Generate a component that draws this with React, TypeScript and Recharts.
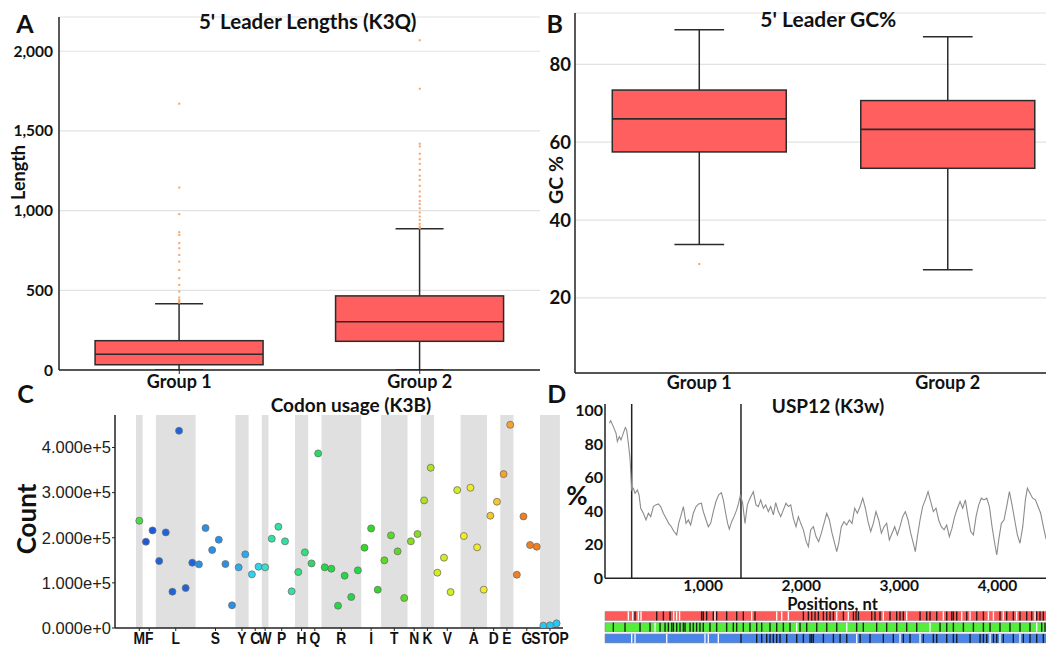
import React from "react";
import {
  ComposedChart,
  Bar,
  Scatter,
  XAxis,
  YAxis,
  CartesianGrid,
  LineChart,
  Line,
  ReferenceLine,
  ReferenceArea,
} from "recharts";

// ---------- Panel A: 5' leader lengths ----------
const groups = ["Group 1", "Group 2"];
const lenMin = [0, 0];
const lenQ1 = [33, 180];
const lenMedian = [99, 303];
const lenQ3 = [184, 465];
const lenMax = [415, 886];
const lenOutliersG1 = [1671, 1145, 978, 865, 848, 796, 764, 722, 680, 628, 576, 534, 492, 455, 440, 430, 422];
const lenOutliersG2 = [2069, 1765, 1420, 1403, 1357, 1323, 1294, 1256, 1219, 1193, 1156, 1120, 1089, 1061, 1042, 1015, 988, 963, 942, 917, 900, 890];
const lenTicks = [0, 500, 1000, 1500, 2000];

// ---------- Panel B: 5' leader GC% ----------
const gcMin = [33.7, 27.2];
const gcQ1 = [57.5, 53.3];
const gcMedian = [66.0, 63.3];
const gcQ3 = [73.4, 70.7];
const gcMax = [88.9, 87.1];
const gcOutliersG1 = [28.7];
const gcOutliersG2: number[] = [];
const gcTicks = [20, 40, 60, 80];

// ---------- Panel C: codon usage ----------
const aminoAcids = ["M", "F", "L", "S", "Y", "C", "W", "P", "H", "Q", "R", "I", "T", "N", "K", "V", "A", "D", "E", "G", "STOP"];
const codonsPerAA = [1, 2, 6, 6, 2, 2, 1, 4, 2, 2, 6, 3, 4, 2, 2, 4, 4, 2, 2, 4, 3];
const codonCounts = [
  237700,
  191200, 216300,
  148400, 211900, 80500, 437100, 88600, 144700,
  141000, 221500, 172800, 195600, 141700, 50200,
  134400, 163200,
  118900, 135800,
  134400,
  197900, 224400, 192000, 81200,
  124000, 167600,
  143200, 386900,
  134400, 131400, 49500, 115900, 68700, 127700,
  177900, 220700, 84900,
  149900, 205200, 169800, 66400,
  192000, 208200,
  282800, 355100,
  122600, 155800, 79700, 305600,
  203800, 310800, 178700, 84900,
  248800, 279800,
  341100, 450300,
  118100, 247300, 183800, 180100,
  5200, 5900, 10300,
];
const countTicks = [0, 100000, 200000, 300000, 400000];

// ---------- Panel D: USP12 profile ----------
const posNt = [
  44, 58, 85, 112, 126, 146, 163, 187, 207, 221, 238, 255, 272, 289, 306, 330, 347, 364, 391, 418,
  442, 466, 493, 516, 544, 567, 595, 622, 649, 676, 703, 731, 751, 771, 799, 826, 850, 873, 900, 928,
  955, 982, 1002, 1030, 1053, 1077, 1104, 1131, 1159, 1186, 1206, 1230, 1250, 1267, 1291, 1315, 1342, 1362, 1380, 1403,
  1427, 1451, 1478, 1512, 1539, 1563, 1587, 1614, 1638, 1665, 1689, 1716, 1740, 1767, 1791, 1818, 1845, 1869, 1893, 1920,
  1947, 1971, 1995, 2022, 2050, 2073, 2096, 2124, 2151, 2178, 2205, 2232, 2260, 2287, 2314, 2341, 2362, 2382, 2409, 2436,
  2463, 2491, 2518, 2545, 2572, 2600, 2627, 2654, 2681, 2708, 2735, 2762, 2790, 2817, 2844, 2871, 2898, 2926, 2953, 2980,
  3007, 3034, 3061, 3089, 3116, 3143, 3163, 3184, 3211, 3238, 3265, 3293, 3320, 3347, 3374, 3401, 3428, 3456, 3483, 3510,
  3537, 3564, 3592, 3619, 3646, 3673, 3700, 3728, 3755, 3782, 3809, 3836, 3863, 3891, 3918, 3945, 3972, 3993, 4013, 4040,
  4067, 4094, 4122, 4149, 4176, 4203, 4230, 4258, 4285, 4305, 4332, 4359, 4387, 4414, 4441, 4468, 4496,
];
const pctValues = [
  92.5, 94, 90.5, 86.6, 81.6, 84.6, 82.6, 86.6, 90, 88.6, 80.6, 71.6, 52.7, 53.7, 50.7, 52.7, 49.8, 41.8, 38.8, 34.8,
  38.8, 36.8, 42.8, 43.8, 44.4, 42.8, 38.8, 35.8, 32.8, 30.8, 27.9, 25.9, 32.8, 36.8, 42.8, 32.8, 34.8, 31.8, 38.8, 42.8,
  44.4, 44.8, 39.8, 34.8, 30.8, 32.8, 39.8, 45.8, 49.8, 51.1, 46.8, 38.8, 32.8, 29.3, 33.8, 36.8, 40.8, 44.8, 49.8, 44.8,
  32.8, 43.8, 47.8, 51.7, 43.8, 42.8, 46.8, 41.8, 43.8, 39.8, 42.8, 37.8, 45.2, 39.8, 36.8, 40.8, 44.8, 42.8, 43.8, 35.8,
  30.8, 36.8, 32.8, 28.9, 22, 18.9, 28.9, 30.8, 24.9, 21.9, 26.9, 32.8, 38.8, 34.8, 26.9, 20.9, 15.9, 20.9, 30.8, 33.8,
  31.8, 34.8, 32.8, 41.8, 38.8, 42.8, 47.8, 41.8, 33.8, 27.9, 32.8, 39.8, 34.8, 26.9, 30.8, 32.8, 22.9, 26.9, 30.8, 25.9,
  30.8, 36.8, 39.8, 34.8, 26.9, 20.9, 15.9, 24.9, 34.8, 42.8, 46.8, 51.7, 45.8, 39.8, 41.8, 34.8, 30.8, 28.9, 31.8, 24.9,
  29.9, 36.8, 41.8, 45.8, 41.8, 46.8, 36.8, 27.9, 25.9, 36.8, 43.8, 47.8, 46.8, 47.8, 42.8, 30.8, 20.9, 13.9, 22.9, 32.8,
  34.8, 42.8, 51.7, 43.8, 34.8, 25.9, 20.9, 30.8, 46.8, 53.7, 50.7, 47.8, 46.8, 42.8, 38.8, 30.8, 23.3,
];
const regionBounds = [272, 1386];
const posTicks = [1000, 2000, 3000, 4000];
const pctTicks = [0, 20, 40, 60, 80, 100];

// reading-frame marks (nt positions)
const frame1Stops = [306, 527, 595, 663, 985, 1002, 1036, 1104, 1138, 1240, 1342, 1410, 1529, 2022, 2073, 2107, 2141, 2175, 2226, 2260, 2294, 2328, 2430, 2532, 2559, 2583, 2718, 2752, 2803, 2905, 2973, 3007, 3041, 3211, 3279, 3313, 3381, 3483, 3534, 3551, 3585, 3687, 3789, 3857, 4026, 4094, 4162, 4230, 4298, 4349, 4400, 4434, 4468];
const frame1Starts = [238, 282, 340, 367, 700, 730, 760, 1121, 1495, 1750, 1801, 1869, 2362, 2480, 2837, 3075, 3449, 3636, 3721, 3908, 3959, 4060, 4196, 4383];
const frame2Stops = [85, 204, 357, 459, 561, 612, 646, 680, 697, 731, 765, 799, 816, 867, 900, 934, 968, 1002, 1070, 1138, 1240, 1308, 1342, 1410, 1478, 1546, 1597, 1682, 1750, 1818, 1886, 1988, 2056, 2158, 2260, 2362, 2565, 2633, 2769, 2871, 2973, 3075, 3177, 3415, 3483, 3551, 3653, 3755, 3857, 3925, 4026, 4128, 4230, 4332, 4451, 4485];
const frame2Starts = [510, 1954, 2464, 3313, 4400];
const frame3Stops = [1386, 1546, 1597, 1648, 1682, 1716, 1750, 1784, 1852, 1954, 2022, 2090, 2107, 2124, 2226, 2328, 2396, 2464, 2600, 2701, 2837, 2939, 3041, 3109, 3245, 3347, 3381, 3483, 3551, 3585, 3721, 3823, 3857, 3891, 3959, 3993, 4060, 4162, 4264, 4332, 4400, 4468];
const frame3Starts = [272, 306, 629, 1019, 1053, 1155, 2566, 3007, 3211, 3925, 4026, 4230];

// ---------- styles ----------
const BOLD_FONT = "Lato, 'Open Sans', sans-serif";
const ARIAL = "'Liberation Sans', Arial, sans-serif";
const BOX_FILL = "#ff5f5f";
const BOX_STROKE = "#2b2b2b";
const OUTLIER = "#f4a46a";
const aaColors: Record<string, string> = {
  M: "#44dd44", F: "#1b5ad8", L: "#1c64de", S: "#2a8fe6", Y: "#2aa9ee", C: "#2fd3ec", W: "#30e2c6",
  P: "#30e2a2", H: "#2ee07e", Q: "#28dc60", R: "#22d944", I: "#2edb22", T: "#5adb22", N: "#86dd22",
  K: "#aee222", V: "#d4ec22", A: "#f2ea22", D: "#f4c82a", E: "#f4a428", G: "#f07e22", STOP: "#22c8f6",
};

// ---------- derived tables ----------
const lenBoxes = groups.map((g, i) => ({
  group: g, range: [lenMin[i], lenMax[i]], min: lenMin[i], q1: lenQ1[i], median: lenMedian[i], q3: lenQ3[i], max: lenMax[i],
}));
const lenOutlierData = [
  ...lenOutliersG1.map((v) => ({ group: groups[0], v })),
  ...lenOutliersG2.map((v) => ({ group: groups[1], v })),
];
const gcBoxes = groups.map((g, i) => ({
  group: g, range: [gcMin[i], gcMax[i]], min: gcMin[i], q1: gcQ1[i], median: gcMedian[i], q3: gcQ3[i], max: gcMax[i],
}));
const gcOutlierData = [
  ...gcOutliersG1.map((v) => ({ group: groups[0], v })),
  ...gcOutliersG2.map((v) => ({ group: groups[1], v })),
];

const codonData: { i: number; v: number; aa: string }[] = [];
const aaSpans: { aa: string; start: number; end: number; center: number }[] = [];
{
  let idx = 0;
  aminoAcids.forEach((aa, k) => {
    const start = idx;
    for (let c = 0; c < codonsPerAA[k]; c++) {
      codonData.push({ i: idx, v: codonCounts[idx], aa });
      idx++;
    }
    const end = idx - 1;
    aaSpans.push({ aa, start, end, center: (start + end) / 2 });
  });
}
const aaTickPositions = aaSpans.map((s) => s.center);
const aaTickLabel = (v: number) => {
  const s = aaSpans.find((x) => Math.abs(x.center - v) < 1e-6);
  return s ? s.aa : "";
};

const usp12Data = posNt.map((p, i) => ({ pos: p, pct: pctValues[i] }));

// ---------- shapes ----------
function BoxShape(props: any) {
  const { x, y, width, height, payload } = props;
  if (x == null || y == null) return null;
  const { min, q1, median, q3, max } = payload;
  const span = max - min;
  const py = (v: number) => y + (height * (max - v)) / span;
  const cx = x + width / 2;
  const capHalf = (width * (0.2 / 0.7)) / 2;
  return (
    <g>
      <line x1={cx} x2={cx} y1={py(max)} y2={py(min)} stroke={BOX_STROKE} strokeWidth={1.5} />
      <line x1={cx - capHalf} x2={cx + capHalf} y1={py(max)} y2={py(max)} stroke={BOX_STROKE} strokeWidth={1.5} />
      <line x1={cx - capHalf} x2={cx + capHalf} y1={py(min)} y2={py(min)} stroke={BOX_STROKE} strokeWidth={1.5} />
      <rect x={x} y={py(q3)} width={width} height={py(q1) - py(q3)} fill={BOX_FILL} stroke={BOX_STROKE} strokeWidth={1.5} />
      <line x1={x} x2={x + width} y1={py(median)} y2={py(median)} stroke={BOX_STROKE} strokeWidth={1.6} />
    </g>
  );
}

const OutlierDot = (p: any) =>
  p.cx == null ? null : <rect x={p.cx - 1} y={p.cy - 1} width={2} height={2} fill={OUTLIER} />;

const CodonDot = (p: any) =>
  p.cx == null ? null : (
    <circle cx={p.cx} cy={p.cy} r={3.5} fill={aaColors[p.payload.aa]} stroke="#707070" strokeWidth={0.8} />
  );

const AATick = (p: any) => {
  const { x, y, payload } = p;
  return (
    <g transform={`translate(${x},${y})`}>
      <text x={0} y={0} dy="0.71em" textAnchor="middle" transform="scale(0.84,1)"
        fontFamily={ARIAL} fontSize={16.5} fontWeight={700} fill="#111">
        {aaTickLabel(payload.value)}
      </text>
    </g>
  );
};

const boldTick = (size: number) => ({ fontFamily: BOLD_FONT, fontSize: size, fontWeight: 700, fill: "#111" });

// ---------- text overlay ----------
function T(props: { x: number; y: number; size: number; children: string; rotate?: boolean; family?: string }) {
  const { x, y, size, children, rotate, family } = props;
  return (
    <text
      x={x}
      y={y}
      fontSize={size}
      fontWeight={700}
      fontFamily={family || BOLD_FONT}
      fill="#111"
      textAnchor="middle"
      dominantBaseline="central"
      transform={rotate ? `rotate(-90 ${x} ${y})` : undefined}
    >
      {children}
    </text>
  );
}

function FrameRow({ row, fill, stops, starts }: { row: number; fill: string; stops: number[]; starts: number[] }) {
  return (
    <>
      <ReferenceArea x1={0} x2={4600} y1={row + 0.1} y2={row + 0.9} fill={fill} fillOpacity={1} stroke="#8a8a8a" strokeWidth={0.6} ifOverflow="visible" />
      {starts.map((p, k) => (
        <ReferenceArea key={"w" + k} x1={p - 7} x2={p + 7} y1={row + 0.1} y2={row + 0.9} fill="#ffffff" fillOpacity={0.95} ifOverflow="visible" />
      ))}
      {stops.map((p, k) => (
        <ReferenceArea key={"b" + k} x1={p - 7} x2={p + 7} y1={row + 0.1} y2={row + 0.9} fill="#111111" fillOpacity={0.9} ifOverflow="visible" />
      ))}
    </>
  );
}

export default function App() {
  return (
    <div style={{ position: "fixed", left: 0, top: 0, width: 1046, height: 649, overflow: "hidden", background: "#fff" }}>
      {/* Panel A */}
      <div style={{ position: "absolute", left: 0, top: 0 }}>
        <ComposedChart width={546} height={400} data={lenBoxes} margin={{ top: 17, right: 6, left: 0, bottom: 0 }} barCategoryGap="15%">
          <CartesianGrid horizontal vertical={false} stroke="#e2e2e2" strokeWidth={1.2} />
          <XAxis dataKey="group" type="category" allowDuplicatedCategory={false} height={30} interval={0}
            tick={boldTick(18)} tickSize={4} tickMargin={1} tickLine={{ stroke: "#222" }} axisLine={{ stroke: "#222", strokeWidth: 1.5 }} />
          <YAxis width={59} type="number" domain={[0, 2215]} ticks={lenTicks} allowDataOverflow
            tickFormatter={(v: number) => v.toLocaleString("en-US")} tick={boldTick(15.5)} tickSize={0} tickMargin={6}
            axisLine={{ stroke: "#222", strokeWidth: 1.5 }} />
          <Bar dataKey="range" shape={BoxShape} isAnimationActive={false} />
          <Scatter data={lenOutlierData} dataKey="v" shape={OutlierDot} isAnimationActive={false} />
        </ComposedChart>
      </div>

      {/* Panel B */}
      <div style={{ position: "absolute", left: 520, top: 0 }}>
        <ComposedChart width={560} height={403} data={gcBoxes} margin={{ top: 13, right: 8, left: 0, bottom: 0 }} barCategoryGap="15%">
          <CartesianGrid horizontal vertical={false} stroke="#e2e2e2" strokeWidth={1.2} />
          <XAxis dataKey="group" type="category" allowDuplicatedCategory={false} height={30} interval={0}
            tick={boldTick(18)} tickSize={0} tickMargin={3} axisLine={{ stroke: "#222", strokeWidth: 1.5 }} />
          <YAxis width={55} type="number" domain={[0.7, 93.2]} ticks={gcTicks} allowDataOverflow
            tick={boldTick(18.5)} tickSize={0} tickMargin={4} axisLine={{ stroke: "#222", strokeWidth: 1.5 }} />
          <Bar dataKey="range" shape={BoxShape} isAnimationActive={false} />
          <Scatter data={gcOutlierData} dataKey="v" shape={OutlierDot} isAnimationActive={false} />
        </ComposedChart>
      </div>

      {/* Panel C */}
      <div style={{ position: "absolute", left: 0, top: 380 }}>
        <ComposedChart width={600} height={268} data={codonData} margin={{ top: 35, right: 37, left: 0, bottom: 0 }}>
          {aaSpans.map((s, k) =>
            k % 2 === 0 ? (
              <ReferenceArea key={s.aa} x1={s.start - 0.5} x2={s.end + 0.5} y1={0} y2={472000} fill="#e0e0e0" fillOpacity={1} />
            ) : null
          )}
          <XAxis dataKey="i" type="number" domain={[-3.67, 63.97]} ticks={aaTickPositions} interval={0} allowDataOverflow
            height={20} tickSize={3} tickMargin={1} tick={AATick}
            tickLine={{ stroke: "#222" }} axisLine={{ stroke: "#222", strokeWidth: 1.5 }} />
          <YAxis dataKey="v" width={115} type="number" domain={[0, 472000]} ticks={countTicks} allowDataOverflow
            tickFormatter={(v: number) => v.toExponential(3)} tickSize={3} tickMargin={1}
            tick={{ fontFamily: ARIAL, fontSize: 16.5, fill: "#222" }}
            tickLine={{ stroke: "#222" }} axisLine={{ stroke: "#222", strokeWidth: 1.5 }} />
          <Scatter dataKey="v" shape={CodonDot} isAnimationActive={false} />
        </ComposedChart>
      </div>

      {/* Panel D */}
      <div style={{ position: "absolute", left: 560, top: 380 }}>
        <LineChart width={500} height={220} data={usp12Data} margin={{ top: 24, right: 3.7, left: 0, bottom: 0 }}>
          <XAxis dataKey="pos" type="number" domain={[0, 4600]} ticks={posTicks} allowDataOverflow height={21.7}
            tickFormatter={(v: number) => v.toLocaleString("en-US")} tick={boldTick(15.5)} tickSize={0} tickMargin={2}
            axisLine={{ stroke: "#222", strokeWidth: 1.5 }} />
          <YAxis width={45} type="number" domain={[0, 104]} ticks={pctTicks} allowDataOverflow
            tick={boldTick(16)} tickSize={0} tickMargin={2} axisLine={{ stroke: "#222", strokeWidth: 1.5 }} />
          {regionBounds.map((b) => (
            <ReferenceLine key={b} x={b} stroke="#222" strokeWidth={1.5} />
          ))}
          <Line dataKey="pct" type="linear" stroke="#8c8c8c" strokeWidth={1.1} dot={false} isAnimationActive={false} />
        </LineChart>
      </div>

      {/* Panel D reading frames */}
      <div style={{ position: "absolute", left: 560, top: 605 }}>
        <ComposedChart width={500} height={39} data={usp12Data} margin={{ top: 5.3, right: 3.7, left: 45, bottom: 0 }}>
          <XAxis dataKey="pos" type="number" domain={[0, 4600]} hide allowDataOverflow />
          <YAxis type="number" domain={[0, 3]} hide allowDataOverflow />
          <FrameRow row={2} fill="#ff5a5a" stops={frame1Stops} starts={frame1Starts} />
          <FrameRow row={1} fill="#55ee3c" stops={frame2Stops} starts={frame2Starts} />
          <FrameRow row={0} fill="#4a86ea" stops={frame3Stops} starts={frame3Starts} />
        </ComposedChart>
      </div>

      {/* text overlay */}
      <svg width={1046} height={649} style={{ position: "absolute", left: 0, top: 0, pointerEvents: "none" }}>
        <T x={25} y={23} size={25}>A</T>
        <T x={307.7} y={21} size={20.5}>5' Leader Lengths (K3Q)</T>
        <T x={17.5} y={172.5} size={18} rotate>Length</T>
        <T x={554.7} y={22.5} size={25}>B</T>
        <T x={828.3} y={18.3} size={21}>5' Leader GC%</T>
        <T x={555.3} y={180} size={19.5} rotate>GC %</T>
        <T x={25.5} y={393} size={25}>C</T>
        <T x={351} y={404} size={19}>Codon usage (K3B)</T>
        <T x={26} y={519} size={26} rotate>Count</T>
        <T x={556.7} y={393} size={25}>D</T>
        <T x={828} y={405} size={19}>USP12 (K3w)</T>
        <T x={577} y={495} size={26}>%</T>
        <T x={832.5} y={604} size={16.5}>Positions, nt</T>
      </svg>
    </div>
  );
}
